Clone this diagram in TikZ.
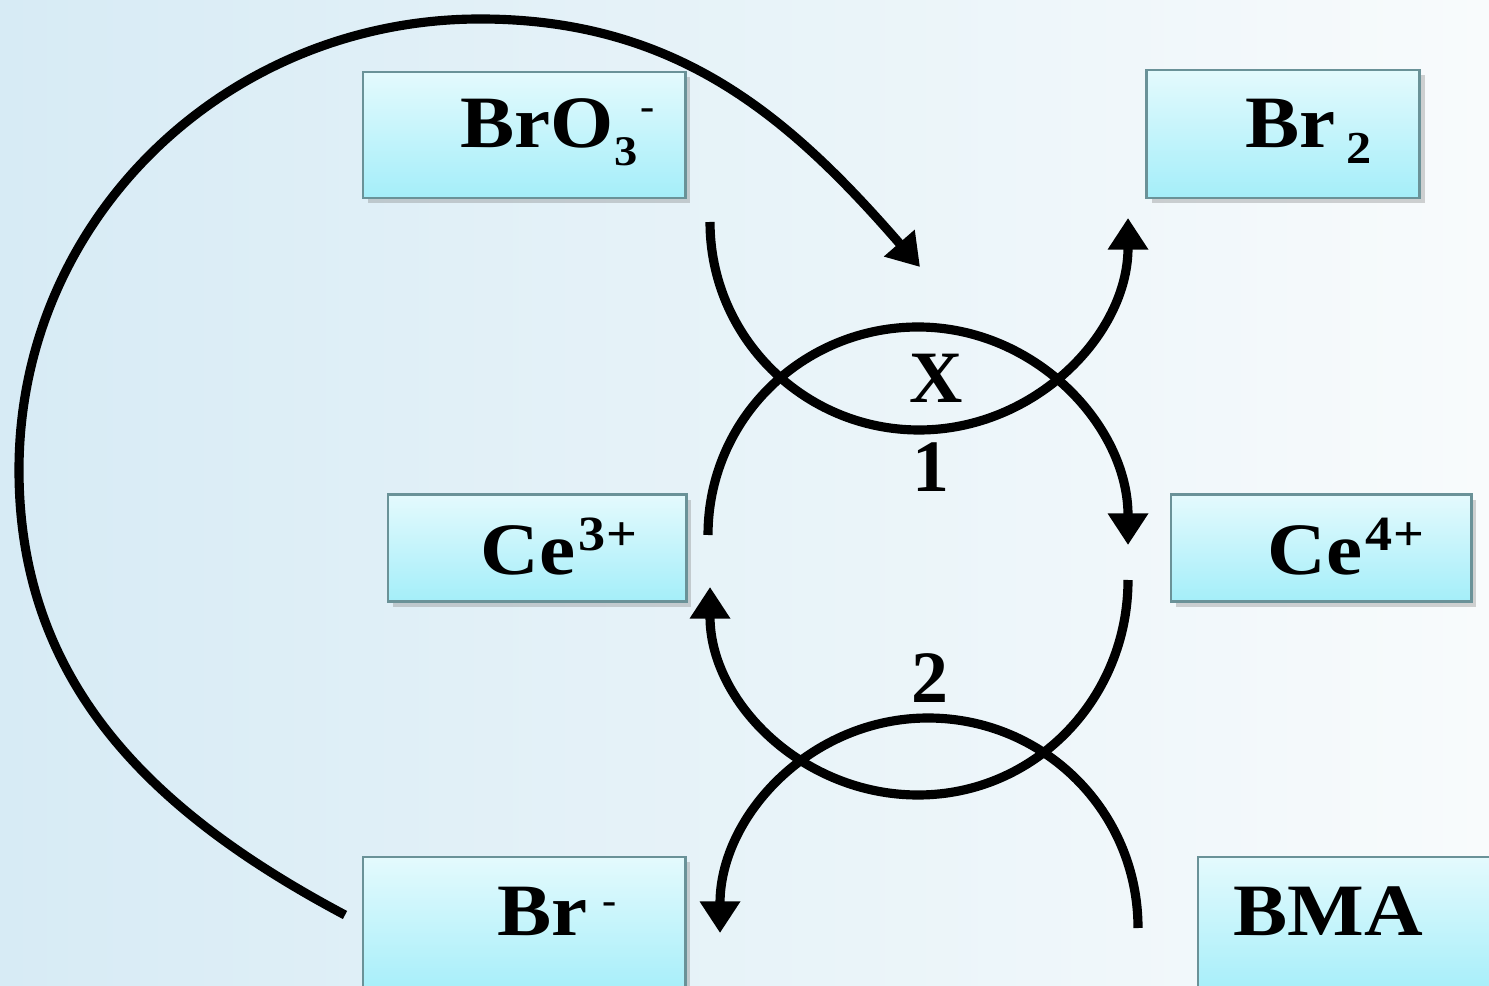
\documentclass[tikz,border=0pt]{standalone}
\usepackage{fontspec}
\setmainfont{Liberation Serif}
\newfontfamily\formulafont[FakeStretch=1.1]{Liberation Serif}
\usetikzlibrary{arrows.meta,shadows}
\definecolor{paleblue}{HTML}{D7EBF5}
\definecolor{paper}{HTML}{F8FBFC}
\definecolor{boxtop}{HTML}{E4FAFD}
\definecolor{boxbottom}{HTML}{A4EEF9}
\definecolor{boxedge}{HTML}{6A9298}
\tikzset{>={Triangle[width=11pt,length=9pt]},
  species/.style={draw=boxedge,line width=.8pt,top color=boxtop,bottom color=boxbottom,
    drop shadow={shadow xshift=1.5pt,shadow yshift=-1.5pt,opacity=.35},inner sep=0pt},
  formula/.style={anchor=base west,inner sep=0pt,font=\formulafont\bfseries\fontsize{21}{24}\selectfont},
  steplabel/.style={inner sep=0pt,font=\bfseries\fontsize{21}{24}\selectfont},
  flux/.style={draw=black,line width=2.6pt}}
\begin{document}
\begin{tikzpicture}[x=.01cm,y=-.01cm]
\useasboundingbox (0,0) rectangle (1489,986);
\shade[left color=paleblue,right color=paper] (0,0) rectangle (1489,986);
% species boxes
\node[species,minimum width=3.22cm,minimum height=1.26cm] (bro3box) at (524,135) {};
\node[species,minimum width=2.73cm,minimum height=1.28cm] (br2box) at (1283,134) {};
\node[species,minimum width=2.98cm,minimum height=1.07cm] (ce3box) at (537,548) {};
\node[species,minimum width=3.00cm,minimum height=1.07cm] (ce4box) at (1321,548) {};
\node[species,minimum width=3.22cm,minimum height=1.40cm] (brbox) at (524,927) {};
\node[species,minimum width=3.00cm,minimum height=1.40cm] (bmabox) at (1348,927) {};
\node[formula] (bro3) at (460,148) {BrO\raisebox{-5pt}{\fontsize{12}{12}\selectfont 3}\hspace{1pt}\raisebox{8pt}{\fontsize{11}{11}\selectfont -}};
\node[formula] (br2) at (1245,148) {Br\hspace{3pt}\raisebox{-4.3pt}{\fontsize{13}{13}\selectfont 2}};
\node[formula] (ce3) at (480,575) {Ce\hspace{1pt}\raisebox{7pt}{\fontsize{14}{14}\selectfont 3+}};
\node[formula] (ce4) at (1267,575) {Ce\hspace{1pt}\raisebox{7pt}{\fontsize{14}{14}\selectfont 4+}};
\node[formula] (brm) at (497,935) {Br\hspace{4pt}\raisebox{6pt}{\fontsize{11}{11}\selectfont -}};
\node[formula] (bma) at (1233,935) {BMA};
\node[steplabel] (xlabel) at (936,378) {X};
\node[steplabel] (one) at (931,467) {1};
\node[steplabel] (two) at (930,678) {2};
% arc ends
\coordinate (bro3out) at (710,222);\coordinate (xlow) at (919,430);\coordinate (br2in) at (1128,218);
\coordinate (ce3out) at (708,535);\coordinate (onetop) at (918,327);\coordinate (ce4in) at (1128,545);
\coordinate (ce4out) at (1128,580);\coordinate (twolow) at (918,795);\coordinate (ce3in) at (710,587);
\coordinate (bmaout) at (1138,928);\coordinate (bmatop) at (928,718);\coordinate (brin) at (720,933);
\coordinate (brloop) at (345,915);\coordinate (loopwest) at (19,470);\coordinate (looptop) at (480,19);\coordinate (bro3in) at (920,267);
\draw[flux,->] (bro3out) to[out=-90,in=180] (xlow) to[out=0,in=-90] (br2in);
\draw[flux,->] (ce3out) to[out=90,in=180] (onetop) to[out=0,in=90] (ce4in);
\draw[flux,->] (ce4out) to[out=-90,in=0] (twolow) to[out=180,in=-90] (ce3in);
\draw[flux,->] (bmaout) to[out=90,in=0] (bmatop) to[out=180,in=90] (brin);
\draw[flux,->] (brloop) to[out=152,in=-90] (loopwest) to[out=90,in=180] (looptop) to[out=0,in=131] (bro3in);
\end{tikzpicture}
\end{document}
